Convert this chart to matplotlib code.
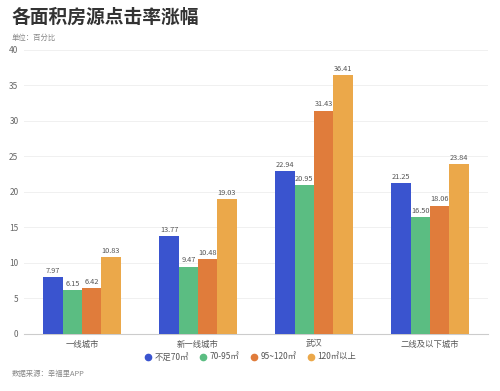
import matplotlib
matplotlib.use("Agg")
import matplotlib.pyplot as plt
import numpy as np
from matplotlib.lines import Line2D

plt.rcParams['font.family'] = ['Noto Sans CJK SC', 'DejaVu Sans']

categories = ["一线城市", "新一线城市", "武汉", "二线及以下城市"]
series_names = ["不足70㎡", "70-95㎡", "95~120㎡", "120㎡以上"]
s1 = [7.97, 13.77, 22.94, 21.25]
s2 = [6.15, 9.47, 20.95, 16.50]
s3 = [6.42, 10.48, 31.43, 18.06]
s4 = [10.83, 19.03, 36.41, 23.84]
series = [s1, s2, s3, s4]
colors = ["#3a54cf", "#5bbd82", "#e07c3b", "#eba84a"]
yticks = [0, 5, 10, 15, 20, 25, 30, 35, 40]

fig = plt.figure(figsize=(5, 3.91), dpi=100)
ax = fig.add_axes([0.048, 0.146, 0.928, 0.727])

x = np.arange(len(categories))
w = 0.166
for i, (vals, c) in enumerate(zip(series, colors)):
    pos = x + (i - 1.5) * w
    ax.bar(pos, vals, width=w, color=c, zorder=3, linewidth=0)
    for p, v in zip(pos, vals):
        ax.text(p, v + 0.3, f"{v:.2f}", ha='center', va='bottom', fontsize=5.3, color='#555555')

ax.set_xlim(-0.5, 3.5)
ax.set_ylim(0, 40)
ax.set_yticks(yticks)
ax.set_yticklabels([str(t) for t in yticks], fontsize=6, color='#666666')
ax.set_xticks(x)
ax.set_xticklabels(categories, fontsize=6, color='#555555')
ax.tick_params(axis='both', length=0, pad=4)
ax.grid(axis='y', color='#f0f0f0', linewidth=0.7, zorder=0)
for s in ['top', 'right', 'left']:
    ax.spines[s].set_visible(False)
ax.spines['bottom'].set_color('#cccccc')
ax.spines['bottom'].set_linewidth(0.8)

handles = [Line2D([0], [0], marker='o', color='none', markerfacecolor=c, markeredgecolor=c, markersize=4.5)
           for c in colors]
fig.legend(handles, series_names, loc='center', bbox_to_anchor=(0.5, 0.087), ncol=4, frameon=False,
           fontsize=6, handlelength=1.0, handletextpad=0.3, columnspacing=1.2, labelcolor='#555555')

fig.text(0.024, 0.955, "各面积房源点击率涨幅", fontsize=13.5, fontweight='bold', color='#333333', va='center')
fig.text(0.024, 0.902, "单位：百分比", fontsize=5.3, color='#888888', va='center')
fig.text(0.024, 0.043, "数据来源：幸福里APP", fontsize=5.3, color='#888888', va='center')

fig.savefig("out.png", dpi=100, facecolor='white')
